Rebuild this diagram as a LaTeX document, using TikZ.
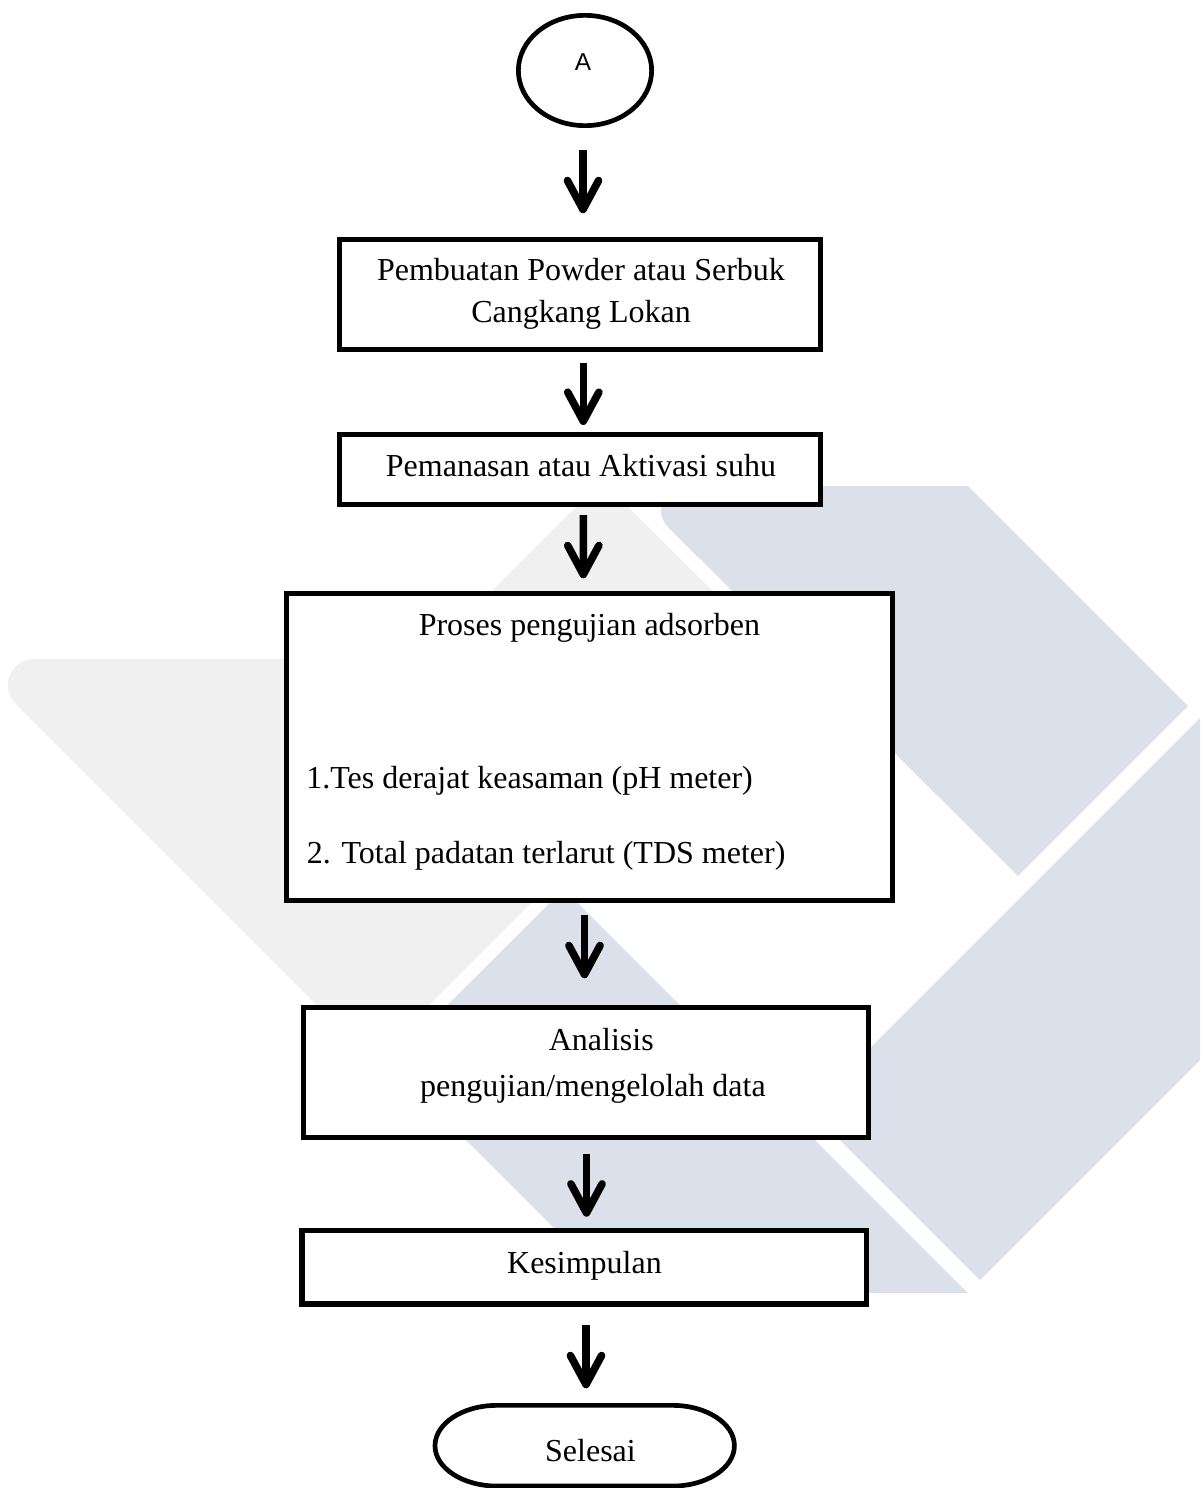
\documentclass[tikz,border=0pt]{standalone}
\usepackage{fontspec}
\setmainfont{Liberation Serif}
\newfontfamily\sansA{Liberation Sans}
\usetikzlibrary{shapes.geometric,arrows.meta,calc}
\definecolor{wmgrey}{RGB}{240,240,240}
\definecolor{wmblue}{RGB}{220,224,235}
\begin{document}
\begin{tikzpicture}[x=0.5pt,y=-0.5pt,
  box/.style={draw=black, line width=2.65pt, fill=white, rectangle, inner sep=0pt, outer sep=0pt},
  term/.style={draw=black, line width=2.35pt, fill=white},
  txt/.style={font=\fontsize{16}{19.2}\selectfont, anchor=base, inner sep=0pt},
  flow/.style={line width=3.8pt, -{Straight Barb[length=14.5pt,width=15.6pt,round]}},
]
\useasboundingbox (0,0) rectangle (1200,1488);
% watermark
\begin{scope}
\clip (0,0) rectangle (1200,1488);
\fill[wmgrey] (33.8,659) -- (424,659) -- (602,481) -- (778,656) -- (373,1061) -- (15.4,703.4) arc[start angle=135,end angle=270,radius=26] -- cycle;
\fill[wmblue] (684.9,486) -- (968,486) -- (1188,706) -- (1018,876) -- (667.9,527) arc[start angle=135,end angle=270,radius=24] -- cycle;
\fill[wmblue] (809,1109) -- (1259,659) -- (1430,830) -- (980,1280) -- cycle;
\fill[wmblue] (564,889) -- (968,1293) -- (619,1293) -- (389,1063) -- cycle;
\end{scope}
% start terminal
\node[ellipse, draw=black, line width=2.35pt, fill=white, inner sep=0pt, outer sep=0pt,
      minimum width=66.65pt, minimum height=55.15pt] (A) at (585,70.5) {};
\node[font=\sansA\fontsize{12.2}{14}\selectfont, anchor=base, inner sep=0pt] (tA) at (583,70) {A};
% boxes
\node[box, minimum width=240.35pt, minimum height=54.85pt] (b1) at (580,294.5) {};
\node[box, minimum width=240.35pt, minimum height=34.85pt] (b2) at (580,469.5) {};
\node[box, minimum width=302.85pt, minimum height=153.35pt] (b3) at (589.5,747) {};
\node[box, minimum width=282.6pt, minimum height=64.85pt] (b4) at (585.75,1072.5) {};
\node[box, minimum width=282.35pt, minimum height=36.7pt] (b5) at (584.4,1267.35) {};
% end terminal
\node[inner sep=0pt, outer sep=0pt, minimum width=149.7pt, minimum height=40.35pt] (end) at (584.7,1445.7) {};
\draw[term] ($(end.north west)+(62,0)$) -- ($(end.north east)+(-62,0)$)
  arc[start angle=270,end angle=450,x radius=62,y radius=40.35]
  -- ($(end.south west)+(62,0)$)
  arc[start angle=90,end angle=270,x radius=62,y radius=40.35] -- cycle;
% texts
\node[txt] (t1a) at (581,280.7) {Pembuatan Powder atau Serbuk};
\node[txt] (t1b) at (581,322.7) {Cangkang Lokan};
\node[txt] (t2) at (581,476.7) {Pemanasan atau Aktivasi suhu};
\node[txt] (t3) at (589.4,635) {Proses pengujian adsorben};
\node[txt, anchor=base west] (t3a) at (306,788.3) {1.Tes derajat keasaman (pH meter)};
\node[txt, anchor=base west] (t3b) at (306.5,863.3) {2. Total padatan terlarut (TDS meter)};
\node[txt] (t4a) at (601.3,1050) {Analisis};
\node[txt] (t4b) at (592.9,1096.7) {pengujian/mengelolah data};
\node[txt] (t5) at (584.5,1273.3) {Kesimpulan};
\node[txt] (t6) at (590.5,1461.7) {Selesai};
% connectors
\draw[flow] ($(A.south)+(-2,24.35)$) -- ($(b1.north)+(3,-26.35)$);
\draw[flow] ($(b1.south)+(3.3,13.35)$) -- ($(b2.north)+(3.3,-9.65)$);
\draw[flow] ($(b2.south)+(3.3,10.65)$) -- ($(b3.north)+(-6.2,-15.35)$);
\draw[flow] ($(b3.south)+(-5,14.65)$) -- ($(b4.north)+(-1.25,-29.35)$);
\draw[flow] ($(b4.south)+(0.75,16.65)$) -- ($(b5.north)+(2.1,-13.95)$);
\draw[flow] ($(b5.south)+(1.6,20.95)$) -- ($(end.north)+(1.3,-17.05)$);
\end{tikzpicture}
\end{document}
